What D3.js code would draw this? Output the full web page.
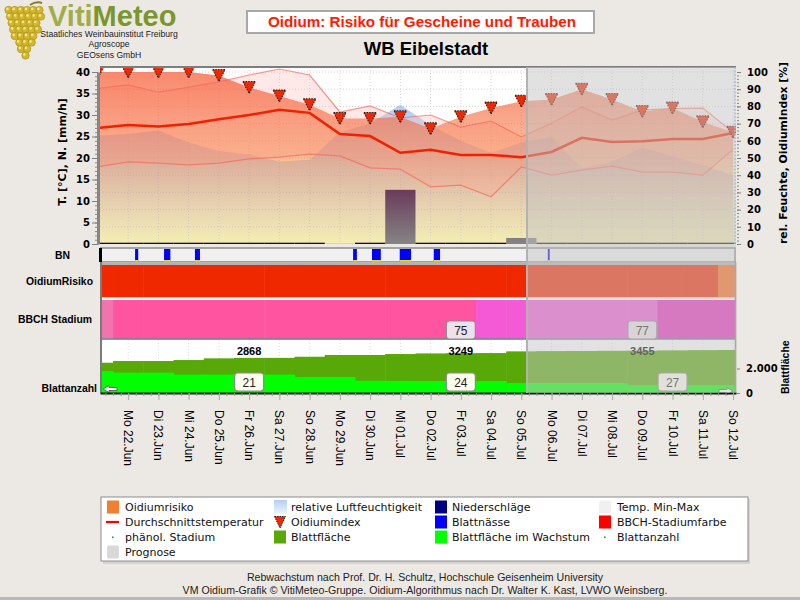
<!DOCTYPE html>
<html>
<head>
<meta charset="utf-8">
<script src="https://cdn.jsdelivr.net/npm/d3@7"></script>
<style>
  body { margin: 0; background: #ece9e4; }
  svg { display: block; }
</style>
</head>
<body>
<svg id="chart" width="800" height="600"></svg>
<script>
// one entry per day, 21.Jun is only partly visible at the left edge
const days = ['2020-06-21', '2020-06-22', '2020-06-23', '2020-06-24', '2020-06-25', '2020-06-26',
  '2020-06-27', '2020-06-28', '2020-06-29', '2020-06-30', '2020-07-01', '2020-07-02', '2020-07-03',
  '2020-07-04', '2020-07-05', '2020-07-06', '2020-07-07', '2020-07-08', '2020-07-09', '2020-07-10',
  '2020-07-11', '2020-07-12']
const dayLabels = ['', 'Mo 22.Jun', 'Di 23.Jun', 'Mi 24.Jun', 'Do 25.Jun', 'Fr 26.Jun', 'Sa 27.Jun',
  'So 28.Jun', 'Mo 29.Jun', 'Di 30.Jun', 'Mi 01.Jul', 'Do 02.Jul', 'Fr 03.Jul', 'Sa 04.Jul', 'So 05.Jul',
  'Mo 06.Jul', 'Di 07.Jul', 'Mi 08.Jul', 'Do 09.Jul', 'Fr 10.Jul', 'Sa 11.Jul', 'So 12.Jul']

const tempMax = [36.2, 37.0, 35.3, 36.5, 37.7, 39.3, 40.7, 39.3, 30.7, 32.1, 29.3, 30.0, 27.2, 28.6,
  24.9, 28.1, 31.9, 28.8, 31.2, 31.5, 31.6, 26.0]
const tempMin = [18.0, 19.1, 18.8, 18.4, 18.8, 19.8, 20.2, 20.9, 20.5, 17.7, 17.4, 13.3, 13.7, 11.0,
  17.9, 16.0, 17.2, 18.1, 16.7, 16.7, 16.0, 22.0]
const tempAvg = [27.0, 27.7, 27.3, 27.9, 29.0, 30.0, 31.2, 30.5, 25.6, 25.1, 21.2, 21.9, 20.7, 20.7,
  20.2, 21.4, 24.7, 23.7, 23.9, 24.4, 24.4, 25.8]
const humidity = [63, 64, 66, 59, 54, 52, 48, 49, 65, 70, 81, 69, 60, 53, 59, 62, 44, 48, 56, 51, 46, 40]
const oidiumIndex = [100, 100, 100, 100, 98, 91, 86, 81, 73, 73, 74, 67, 74, 79, 83, 84, 90, 84, 77,
  79, 71, 65]
const precip = [0, 0, 0, 0, 0, 0, 0, 0, 0.05, 0, 12.6, 0, 0, 0, 1.4, 0, 0, 0, 0, 0, 0, 0]

// leaf wetness: start (hours after 22.Jun 00:00) and duration in hours
const wetStart = [5.5, 28.5, 53, 178.5, 193.5, 215.5, 242.5, 333]
const wetHours = [2.5, 5, 4, 3, 7, 9, 5, 1.5]

const riskLevel = [3, 3, 3, 3, 3, 3, 3, 3, 3, 3, 3, 3, 3, 3, 3, 3, 3, 3, 3, 3, 3, 2]
const bbch = [73, 75, 75, 75, 75, 75, 75, 75, 75, 75, 75, 75, 75, 77, 77, 77, 77, 77, 77, 79, 79, 79]
const bbchLabelDays = [12, 18]
const leafArea = [2470, 2610, 2610, 2690, 2830, 2868, 2868, 2960, 3100, 3100, 3180, 3230, 3249, 3260,
  3400, 3420, 3430, 3445, 3455, 3480, 3500, 3510]
const leafGrowth = [1795, 1660, 1660, 1510, 1510, 1510, 1510, 1310, 1310, 1000, 990, 980, 980, 980,
  820, 820, 820, 820, 650, 650, 650, 650]
const leafAreaLabelDays = [5, 12, 18]
const leafCountDays = [5, 12, 19]
const leafCount = [21, 24, 27]

const forecastStart = new Date(2020, 6, 5, 4, 30)

const legendItems = [
  ['rect', '#f08030', 'Oidiumrisiko'], ['line', '#ff0000', 'Durchschnittstemperatur'],
  ['dot', '#2e8b3a', 'phänol. Stadium'], ['rect', '#d8d8d8', 'Prognose'],
  ['hum', '', 'relative Luftfeuchtigkeit'], ['tri', '#f02800', 'Oidiumindex'],
  ['rect', '#58a808', 'Blattfläche'], ['rect', '#000080', 'Niederschläge'],
  ['rect', '#0000ff', 'Blattnässe'], ['rect', '#00ff00', 'Blattfläche im Wachstum'],
  ['rect', '#f0f0f0', 'Temp. Min-Max'], ['rect', '#ff0000', 'BBCH-Stadiumfarbe'],
  ['dot', '#2e8b3a', 'Blattanzahl']
]

const SANS = "'Liberation Sans', Arial, sans-serif"
const WIDE = "'DejaVu Sans', Verdana, sans-serif"

const riskColor = { 3: '#f02800', 2: '#fd6d1d' }
const bbchColor = { 73: '#f274ae', 75: '#ff55a0', 77: '#f55ad6', 79: '#ea2ebd' }

const parse = d3.timeParse('%Y-%m-%d')
const dates = days.map(parse)
const day0 = dates[1]

const x = d3.scaleTime()
  .domain([new Date(2020, 5, 21, 1, 40), new Date(2020, 6, 12, 2, 20)])
  .range([100, 736])
const yT = d3.scaleLinear().domain([0, 40]).range([244, 72])
const yP = d3.scaleLinear().domain([0, 100]).range([244, 72])
const yL = d3.scaleLinear().domain([0, 2000]).range([393, 368.5])

const xd = i => x(dates[i])
const xFrom = i => x(d3.timeHour.offset(dates[i], -12))
const xTo = i => x(d3.timeHour.offset(dates[i], 12))
const idx = d3.range(days.length)

const svg = d3.select('#chart')
const defs = svg.append('defs')

function grad(id, y1, y2, stops) {
  const g = defs.append('linearGradient').attr('id', id)
    .attr('gradientUnits', 'userSpaceOnUse')
    .attr('x1', 0).attr('x2', 0).attr('y1', y1).attr('y2', y2)
  stops.forEach(s => g.append('stop').attr('offset', s[0]).attr('stop-color', s[1]).attr('stop-opacity', s[2]))
}
grad('bgGrad', 67, 244, [[0, '#ffffff', 1], [0.3, '#ffffff', 1], [0.65, '#fdf8d2', 1], [1, '#fbf5b2', 1]])
grad('humGrad', 72, 244, [[0, '#8cb9f0', 0.85], [1, '#8cb9f0', 0.05]])
grad('oidGrad', 72, 244, [[0, '#f55028', 0.68], [0.5, '#f56e32', 0.45], [1, '#f59650', 0.05]])
grad('rainGrad', 190, 244, [[0, '#6c3b5c', 1], [1, '#858585', 1]])
grad('legHum', 500, 514, [[0, '#b4cff2', 1], [1, '#eef4fc', 1]])

defs.append('clipPath').attr('id', 'mainClip')
  .append('rect').attr('x', 100).attr('y', 67).attr('width', 636).attr('height', 177)
defs.append('clipPath').attr('id', 'bandClip')
  .append('rect').attr('x', 100).attr('y', 240).attr('width', 636).attr('height', 160)

// ---------- header ----------
function draw_logo() {
  const g = svg.append('g')
  // grape cluster
  const rows = [[0, 6], [1, 6], [2, 5], [3, 5], [4, 4], [5, 3], [6, 2], [7, 1]]
  rows.forEach(([r, n]) => {
    for (let k = 0; k < n; k++) {
      const cx = 24 - (n - 1) * 3.1 + k * 6.2 + (r % 2) * 1.5
      const cy = 10 + r * 6.5
      g.append('circle').attr('cx', cx).attr('cy', cy).attr('r', 3.7)
        .attr('fill', '#d2b62c').attr('stroke', '#a88e18').attr('stroke-width', 0.6)
      g.append('circle').attr('cx', cx - 1.1).attr('cy', cy - 1.1).attr('r', 1.3).attr('fill', '#f2e488')
    }
  })
  g.append('path').attr('d', 'M30,5 Q36,1 42,3').attr('stroke', '#8a7a20').attr('stroke-width', 2).attr('fill', 'none')

  const t = g.append('text').attr('x', 48).attr('y', 26)
    .style('font-family', SANS).style('font-weight', 'bold').style('font-size', '29px')
  t.append('tspan').attr('fill', '#a2ad4a').text('Viti')
  t.append('tspan').attr('fill', '#7b962c').text('Meteo')

  const sub = ['Staatliches Weinbauinstitut Freiburg', 'Agroscope', 'GEOsens GmbH']
  sub.forEach((s, i) => {
    g.append('text').attr('x', 109).attr('y', 37 + i * 10.3).attr('text-anchor', 'middle')
      .style('font-family', SANS).style('font-size', '8.6px').attr('fill', '#222').text(s)
  })
}

function draw_titles() {
  svg.append('rect').attr('x', 247).attr('y', 11).attr('width', 347).attr('height', 22)
    .attr('fill', '#ffffff').attr('stroke', '#a8a8a8').attr('stroke-width', 2)
  svg.append('text').attr('x', 422).attr('y', 27).attr('text-anchor', 'middle')
    .style('font-family', SANS).style('font-weight', 'bold').style('font-size', '15.2px')
    .attr('fill', '#ff1a00').text('Oidium: Risiko für Gescheine und Trauben')
  svg.append('text').attr('x', 426).attr('y', 55).attr('text-anchor', 'middle')
    .style('font-family', SANS).style('font-weight', 'bold').style('font-size', '18.5px')
    .attr('fill', '#000').text('WB Eibelstadt')
}

// ---------- main panel ----------
function draw_main() {
  const g = svg.append('g').attr('clip-path', 'url(#mainClip)')
  g.append('rect').attr('x', 100).attr('y', 67).attr('width', 636).attr('height', 177).attr('fill', 'url(#bgGrad)')

  // dotted grid
  g.selectAll('.vg').data(idx.slice(1)).enter().append('line')
    .attr('x1', xd).attr('x2', xd).attr('y1', 67).attr('y2', 244)
    .attr('stroke', '#d4d4d4').attr('stroke-dasharray', '1,2')
  g.selectAll('.hg').data(d3.range(10, 101, 10)).enter().append('line')
    .attr('x1', 100).attr('x2', 736).attr('y1', yP).attr('y2', yP)
    .attr('stroke', '#d4d4d4').attr('stroke-dasharray', '1,2')

  const hum = d3.area().x(xd).y0(yP(0)).y1(i => yP(humidity[i]))
  g.append('path').datum(idx).attr('d', hum).attr('fill', 'url(#humGrad)')

  const band = d3.area().x(xd).y0(i => yT(tempMin[i])).y1(i => yT(tempMax[i]))
  g.append('path').datum(idx).attr('d', band).attr('fill', '#ffbebe').attr('fill-opacity', 0.35)

  const oid = d3.area().x(xd).y0(yP(0)).y1(i => yP(oidiumIndex[i]))
  g.append('path').datum(idx).attr('d', oid).attr('fill', 'url(#oidGrad)')

  const lineMax = d3.line().x(xd).y(i => yT(tempMax[i]))
  const lineMin = d3.line().x(xd).y(i => yT(tempMin[i]))
  g.append('path').datum(idx).attr('d', lineMax).attr('fill', 'none').attr('stroke', '#f56a5a').attr('stroke-opacity', 0.7).attr('stroke-width', 1.2)
  g.append('path').datum(idx).attr('d', lineMin).attr('fill', 'none').attr('stroke', '#f56a5a').attr('stroke-opacity', 0.7).attr('stroke-width', 1.2)

  // precipitation
  g.selectAll('.rain').data(idx.filter(i => precip[i] > 0)).enter().append('rect')
    .attr('x', xFrom).attr('width', i => xTo(i) - xFrom(i))
    .attr('y', i => yT(precip[i])).attr('height', i => yT(0) - yT(precip[i]))
    .attr('fill', 'url(#rainGrad)')
  g.selectAll('.rain0').data(idx.filter(i => precip[i] === 0)).enter().append('line')
    .attr('x1', xFrom).attr('x2', xTo).attr('y1', yT(0) - 0.5).attr('y2', yT(0) - 0.5)
    .attr('stroke', '#111').attr('stroke-width', 1.6)

  const avg = d3.line().x(xd).y(i => yT(tempAvg[i]))
  g.append('path').datum(idx).attr('d', avg).attr('fill', 'none').attr('stroke', '#f02000').attr('stroke-width', 2.5)

  g.selectAll('.tri').data(idx).enter().append('path')
    .attr('transform', i => `translate(${xd(i)},${yP(oidiumIndex[i])})`)
    .attr('d', 'M-6.3,-6L6.3,-6L0,6Z')
    .attr('fill', '#f02800').attr('stroke', '#222').attr('stroke-width', 1.1).attr('stroke-dasharray', '1.5,1.2')

  // frame
  svg.append('line').attr('x1', 100).attr('x2', 736).attr('y1', 67).attr('y2', 67).attr('stroke', '#7d7d7d').attr('stroke-width', 2)
  svg.append('line').attr('x1', 735).attr('x2', 735).attr('y1', 67).attr('y2', 244)
    .attr('stroke', '#8fb4e4').attr('stroke-width', 1.5).attr('stroke-dasharray', '2,1.5')
}

function style_axis(sel) {
  sel.selectAll('text').style('font-family', WIDE).style('font-weight', 'bold').style('font-size', '10px').attr('fill', '#000')
  sel.selectAll('.tick line').attr('stroke', '#808080')
}

function draw_axes() {
  // minor ticks
  svg.append('g').attr('transform', 'translate(98,0)')
    .call(d3.axisLeft(yT).tickValues(d3.range(0, 41, 1)).tickSize(3).tickFormat('').tickSizeOuter(0))
    .call(s => s.select('.domain').remove())
    .selectAll('line').attr('stroke', '#8a8a8a')
  svg.append('g').attr('transform', 'translate(98,0)')
    .call(d3.axisLeft(yT).tickValues(d3.range(0, 41, 5)).tickSize(6).tickPadding(2).tickSizeOuter(0))
    .call(style_axis)
    .call(s => s.select('.domain').attr('stroke', '#858585').attr('stroke-width', 3))

  svg.append('g').attr('transform', 'translate(737,0)')
    .call(d3.axisRight(yP).tickValues(d3.range(0, 101, 2)).tickSize(2).tickFormat('').tickSizeOuter(0))
    .call(s => s.select('.domain').remove())
    .selectAll('line').attr('stroke', '#8a8a8a')
  svg.append('g').attr('transform', 'translate(737,0)')
    .call(d3.axisRight(yP).tickValues(d3.range(0, 101, 10)).tickSize(4).tickPadding(6).tickSizeOuter(0))
    .call(style_axis)
    .call(s => s.select('.domain').remove())

  svg.append('text').attr('transform', 'translate(62,152) rotate(-90)').attr('text-anchor', 'middle')
    .attr('dominant-baseline', 'central')
    .style('font-family', WIDE).style('font-weight', 'bold').style('font-size', '11px').text('T. [°C], N. [mm/h]')
  svg.append('text').attr('transform', 'translate(783,153) rotate(-90)').attr('text-anchor', 'middle')
    .attr('dominant-baseline', 'central')
    .style('font-family', WIDE).style('font-weight', 'bold').style('font-size', '10.8px').text('rel. Feuchte, OidiumIndex [%]')
  svg.append('text').attr('transform', 'translate(785,394) rotate(-90)').attr('text-anchor', 'start')
    .attr('dominant-baseline', 'central')
    .style('font-family', SANS).style('font-weight', 'bold').style('font-size', '10.5px').text('Blattfläche')

  // leaf area axis (right)
  svg.append('g').attr('transform', 'translate(737,0)')
    .call(d3.axisRight(yL).tickValues([0, 2000]).tickSize(3).tickPadding(6).tickSizeOuter(0)
      .tickFormat(d => d3.format(',')(d).replace(',', '.')))
    .call(style_axis)
    .call(s => s.select('.domain').remove())

  // bottom time axis
  svg.append('g').attr('transform', 'translate(0,393)')
    .call(d3.axisBottom(x).ticks(d3.timeHour.every(6)).tickSize(3).tickFormat('').tickSizeOuter(0))
    .call(s => s.select('.domain').attr('stroke', '#111').attr('stroke-width', 2))
    .selectAll('.tick line').attr('stroke', '#999')
  svg.append('g').attr('transform', 'translate(0,393)')
    .call(d3.axisBottom(x).ticks(d3.timeDay.every(1)).tickSize(7).tickFormat('').tickSizeOuter(0))
    .call(s => s.select('.domain').remove())
    .selectAll('.tick line').attr('stroke', '#aaa')

  svg.selectAll('.daylab').data(idx.slice(1)).enter().append('text')
    .attr('transform', i => `translate(${xd(i)},410) rotate(90)`)
    .attr('dominant-baseline', 'central')
    .style('font-family', SANS).style('font-size', '12px').attr('fill', '#000')
    .text(i => dayLabels[i])
}

// ---------- lower bands ----------
function draw_bands() {
  const g = svg.append('g').attr('clip-path', 'url(#bandClip)')

  // leaf wetness
  g.append('rect').attr('x', 100).attr('y', 248).attr('width', 635).attr('height', 14)
    .attr('fill', '#f0f0f0').attr('stroke', '#8a8a8a').attr('stroke-width', 1.5)
  const hx = h => x(d3.timeMinute.offset(day0, Math.round(h * 60)))
  g.selectAll('.wet').data(wetStart).enter().append('rect')
    .attr('x', d => hx(d)).attr('width', (d, i) => hx(d + wetHours[i]) - hx(d))
    .attr('y', 249).attr('height', 12).attr('fill', '#0000ff')
  g.selectAll('.wety').data(wetStart).enter().append('rect')
    .attr('x', d => hx(d)).attr('width', (d, i) => hx(d + wetHours[i]) - hx(d))
    .attr('y', 260).attr('height', 1.5).attr('fill', '#f0e000')

  g.append('rect').attr('x', 100).attr('y', 262).attr('width', 636).attr('height', 3).attr('fill', '#b4b4b4')

  // oidium risk
  g.selectAll('.risk').data(idx).enter().append('rect')
    .attr('x', xFrom).attr('width', i => xTo(i) - xFrom(i) + 0.5)
    .attr('y', 265).attr('height', 32).attr('fill', i => riskColor[riskLevel[i]])
  g.append('rect').attr('x', 100).attr('y', 297).attr('width', 636).attr('height', 1.5).attr('fill', '#a8e2f2')
  g.append('rect').attr('x', 100).attr('y', 298.5).attr('width', 636).attr('height', 1.5).attr('fill', '#ffffff')

  // BBCH
  g.selectAll('.bbch').data(idx).enter().append('rect')
    .attr('x', xFrom).attr('width', i => xTo(i) - xFrom(i) + 0.5)
    .attr('y', 300).attr('height', 39).attr('fill', i => bbchColor[bbch[i]])
  g.append('rect').attr('x', 100).attr('y', 338.5).attr('width', 636).attr('height', 1.2).attr('fill', '#2b9a7a')

  // leaf area
  g.append('rect').attr('x', 100).attr('y', 340).attr('width', 636).attr('height', 53).attr('fill', '#ffffff')
  g.selectAll('.lg').data(idx.slice(1)).enter().append('line')
    .attr('x1', xd).attr('x2', xd).attr('y1', 340).attr('y2', 393)
    .attr('stroke', '#dcdcdc').attr('stroke-dasharray', '1,2')
  g.selectAll('.leaf').data(idx).enter().append('rect')
    .attr('x', xFrom).attr('width', i => xTo(i) - xFrom(i) + 0.5)
    .attr('y', i => yL(leafArea[i])).attr('height', i => yL(0) - yL(leafArea[i]))
    .attr('fill', '#58a808')
  g.selectAll('.grow').data(idx).enter().append('rect')
    .attr('x', xFrom).attr('width', i => xTo(i) - xFrom(i) + 0.5)
    .attr('y', i => yL(leafGrowth[i])).attr('height', i => yL(0) - yL(leafGrowth[i]))
    .attr('fill', '#00ff00')

  svg.selectAll('.lal').data(leafAreaLabelDays).enter().append('text')
    .attr('x', xd).attr('y', 355).attr('text-anchor', 'middle')
    .style('font-family', SANS).style('font-weight', 'bold').style('font-size', '11px')
    .text(i => leafArea[i])

  function label_box(sel, cx, cy, txt, fill) {
    const b = sel.append('g').attr('transform', `translate(${cx},${cy})`)
    b.append('rect').attr('x', -14.5).attr('y', -9).attr('width', 29).attr('height', 18).attr('rx', 3)
      .attr('fill', fill).attr('stroke', '#8c8c8c').attr('stroke-width', 1.2)
    b.append('text').attr('y', 4.5).attr('text-anchor', 'middle')
      .style('font-family', SANS).style('font-size', '12px').attr('fill', '#222').text(txt)
  }
  bbchLabelDays.forEach(i => label_box(svg, xd(i), 330, bbch[i], '#ece2ec'))
  leafCountDays.forEach((i, k) => label_box(svg, xd(i), 382, leafCount[k], '#fffff0'))

  // left frame of lower panels
  svg.append('line').attr('x1', 101).attr('x2', 101).attr('y1', 262).attr('y2', 393).attr('stroke', '#7a7a7a').attr('stroke-width', 2)
  svg.append('line').attr('x1', 100.5).attr('x2', 100.5).attr('y1', 248).attr('y2', 262).attr('stroke', '#000').attr('stroke-width', 3)
  svg.append('line').attr('x1', 735.5).attr('x2', 735.5).attr('y1', 262).attr('y2', 393).attr('stroke', '#8a8a8a').attr('stroke-width', 1.5)

  // scroll arrows
  svg.append('path').attr('d', 'M103,389 L109,385.5 L109,387.5 L117,387.5 L117,390.5 L109,390.5 L109,392.5 Z')
    .attr('fill', '#fff').attr('stroke', '#666')
  svg.append('path').attr('d', 'M733,391 L727,387.5 L727,389.5 L719,389.5 L719,392.5 L727,392.5 L727,394.5 Z')
    .attr('fill', '#fff').attr('stroke', '#666')

  const labs = [['BN', 70, 258.5], ['OidiumRisiko', 93, 285], ['BBCH Stadium', 92, 323], ['Blattanzahl', 97, 392]]
  labs.forEach(l => {
    svg.append('text').attr('x', l[1]).attr('y', l[2]).attr('text-anchor', 'end')
      .style('font-family', SANS).style('font-weight', 'bold').style('font-size', '10.4px').text(l[0])
  })
}

function draw_forecast() {
  const x0 = x(forecastStart)
  svg.append('rect').attr('x', x0).attr('y', 67).attr('width', 736 - x0).attr('height', 326)
    .attr('fill', '#c3c3c3').attr('fill-opacity', 0.5)
  svg.append('line').attr('x1', x0).attr('x2', x0).attr('y1', 67).attr('y2', 393)
    .attr('stroke', '#b2b2b2').attr('stroke-width', 2)
}

function draw_legend() {
  svg.append('rect').attr('x', 103).attr('y', 499).attr('width', 647).attr('height', 65).attr('fill', '#d6d3ce')
  svg.append('rect').attr('x', 101).attr('y', 497).attr('width', 647).attr('height', 64)
    .attr('fill', '#fff').attr('stroke', '#8c8c8c')
  const colX = [107, 274, 435, 599]
  const rowY = [507, 522, 537, 552]
  const cols = [[0, 1, 2, 3], [4, 5, 6], [7, 8, 9], [10, 11, 12]]
  cols.forEach((c, ci) => {
    c.forEach((k, ri) => {
      const [type, color, label] = legendItems[k]
      const sx = colX[ci], cy = rowY[ri]
      const g = svg.append('g')
      if (type === 'rect') {
        g.append('rect').attr('x', sx).attr('y', cy - 6.5).attr('width', 12).attr('height', 13)
          .attr('rx', color === '#f0f0f0' || color === '#d8d8d8' ? 2 : 0).attr('fill', color)
      } else if (type === 'hum') {
        g.append('rect').attr('x', sx).attr('y', cy - 7).attr('width', 13).attr('height', 14).attr('fill', 'url(#legHum)')
      } else if (type === 'line') {
        g.append('line').attr('x1', sx - 1).attr('x2', sx + 12).attr('y1', cy).attr('y2', cy)
          .attr('stroke', color).attr('stroke-width', 2.2)
      } else if (type === 'dot') {
        g.append('rect').attr('x', sx + 5).attr('y', cy - 0.5).attr('width', 1.6).attr('height', 1.6).attr('fill', color)
      } else if (type === 'tri') {
        g.append('path').attr('transform', `translate(${sx + 6},${cy})`).attr('d', 'M-5.5,-5.5L5.5,-5.5L0,6Z')
          .attr('fill', color).attr('stroke', '#222').attr('stroke-width', 1).attr('stroke-dasharray', '1.5,1')
      }
      g.append('text').attr('x', sx + (ci === 0 ? 18 : ci === 3 ? 18 : 17)).attr('y', cy + 4)
        .style('font-family', WIDE).style('font-size', '11px').attr('fill', '#111').text(label)
    })
  })
}

function draw_footer() {
  const lines = ['Rebwachstum nach Prof. Dr. H. Schultz, Hochschule Geisenheim University',
    'VM Oidium-Grafik © VitiMeteo-Gruppe. Oidium-Algorithmus nach Dr. Walter K. Kast, LVWO Weinsberg.']
  lines.forEach((s, i) => {
    svg.append('text').attr('x', 425).attr('y', 581 + i * 13).attr('text-anchor', 'middle')
      .style('font-family', SANS).style('font-size', '10.6px').attr('fill', '#222').text(s)
  })
  svg.append('rect').attr('x', 0).attr('y', 597).attr('width', 800).attr('height', 3).attr('fill', '#b8b8b8')
}

draw_logo()
draw_titles()
draw_main()
draw_bands()
draw_axes()
draw_forecast()
draw_legend()
draw_footer()
</script>
</body>
</html>
